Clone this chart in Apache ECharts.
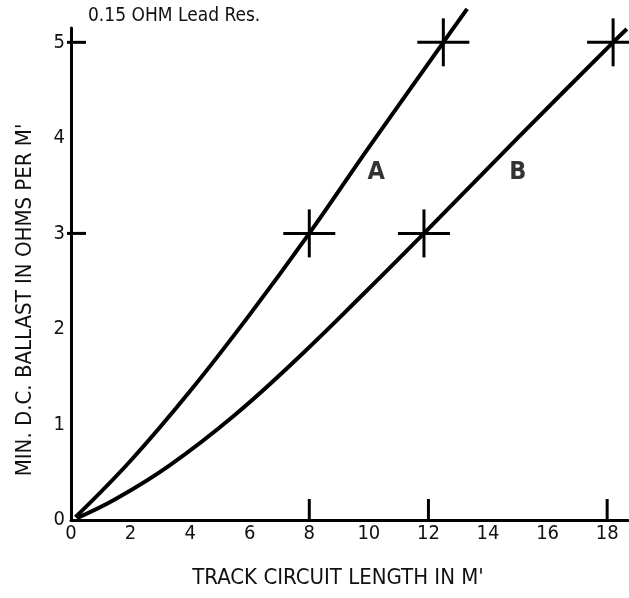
<!DOCTYPE html>
<html>
<head>
<meta charset="utf-8">
<script src="https://cdn.jsdelivr.net/npm/echarts@6/dist/echarts.min.js"></script>
<style>
    html, body { margin: 0; padding: 0; background: #fff; }
    #chart { width: 629px; height: 598px; }
</style>
</head>
<body>
<div id="chart"></div>
<script>
    // curve A: track circuit length (M') vs min ballast (ohms per M')
    const curveA = [[0.15, 0.03], [2, 0.62], [4, 1.35], [6, 2.15], [8, 3], [10, 3.9], [12.5, 5], [13.3, 5.35]];
    // curve B
    const curveB = [[0.2, 0.02], [1.5, 0.22], [3.3, 0.57], [5.5, 1.1], [7.7, 1.72], [9.8, 2.36], [11.85, 3], [15, 4.0], [18.2, 5], [18.66, 5.14]];
    // crosses drawn on the curves
    const crossPoints = [[8, 3], [12.5, 5], [11.85, 3], [18.2, 5]];
    const yTickVals = [3, 5];
    const xTickVals = [8, 12, 18];
    const curveNames = ['A', 'B'];
    const curveLabelPos = [[10.25, 3.64], [15.0, 3.64]];

    const font = "'Liberation Sans Narrow', 'DejaVu Sans Condensed', 'Liberation Sans', sans-serif";
    const chart = echarts.init(document.getElementById('chart'));

    let option = {
        animation: false,
        backgroundColor: '#fff',
        grid: { left: 71, right: 1, top: 28, bottom: 78 },
        xAxis: {
            type: 'value',
            min: 0,
            max: 18.7,
            interval: 2,
            axisLine: { lineStyle: { color: '#000', width: 3 } },
            axisTick: { show: false },
            splitLine: { show: false },
            axisLabel: { color: '#111', fontSize: 20, fontFamily: font, margin: 4, showMaxLabel: false }
        },
        yAxis: {
            type: 'value',
            min: 0,
            max: 5.15,
            interval: 1,
            axisLine: { show: true, lineStyle: { color: '#000', width: 3 } },
            axisTick: { show: false },
            splitLine: { show: false },
            axisLabel: { color: '#111', fontSize: 20, fontFamily: font, margin: 6, showMaxLabel: false }
        },
        graphic: [
            {
                type: 'text', left: 88, top: 7,
                style: { text: '0.15 OHM Lead Res.', fill: '#111', font: '19px ' + font }
            },
            {
                type: 'text', x: 338, y: 578,
                style: { text: "TRACK CIRCUIT LENGTH IN M'", fill: '#111', font: '22px ' + font, align: 'center', verticalAlign: 'middle' }
            },
            {
                type: 'text', x: 25, y: 300, rotation: Math.PI / 2,
                style: { text: "MIN. D.C. BALLAST IN OHMS PER M'", fill: '#111', font: '22px ' + font, align: 'center', verticalAlign: 'middle' }
            }
        ],
        series: [
            {
                name: 'A', type: 'line', data: curveA, smooth: 0.4, symbol: 'none', clip: false,
                lineStyle: { color: '#000', width: 4 }
            },
            {
                name: 'B', type: 'line', data: curveB, smooth: 0.4, symbol: 'none', clip: false,
                lineStyle: { color: '#000', width: 4 }
            },
            {
                type: 'custom', data: crossPoints, clip: false,
                renderItem: (params, api) => {
                    let p = api.coord([api.value(0), api.value(1)]);
                    let st = { stroke: '#000', lineWidth: 3 };
                    return {
                        type: 'group',
                        children: [
                            { type: 'line', shape: { x1: p[0] - 26, y1: p[1], x2: p[0] + 26, y2: p[1] }, style: st },
                            { type: 'line', shape: { x1: p[0], y1: p[1] - 24, x2: p[0], y2: p[1] + 24 }, style: st }
                        ]
                    };
                }
            },
            {
                // short ticks on the y axis
                type: 'custom', data: yTickVals.map(v => [0, v]),
                renderItem: (params, api) => {
                    let p = api.coord([api.value(0), api.value(1)]);
                    return { type: 'line', shape: { x1: p[0] - 4, y1: p[1], x2: p[0] + 15, y2: p[1] }, style: { stroke: '#000', lineWidth: 3 } };
                }
            },
            {
                // short ticks on the x axis
                type: 'custom', data: xTickVals.map(v => [v, 0]),
                renderItem: (params, api) => {
                    let p = api.coord([api.value(0), api.value(1)]);
                    return { type: 'line', shape: { x1: p[0], y1: p[1], x2: p[0], y2: p[1] - 21 }, style: { stroke: '#000', lineWidth: 3 } };
                }
            },
            {
                type: 'scatter', symbolSize: 0, silent: true,
                data: curveLabelPos.map((p, i) => ({ value: p, name: curveNames[i] })),
                label: {
                    show: true, position: 'inside', formatter: '{b}',
                    color: '#000', fontSize: 25, fontWeight: 'bold', fontFamily: font
                }
            }
        ]
    };

    chart.setOption(option);
</script>
</body>
</html>
